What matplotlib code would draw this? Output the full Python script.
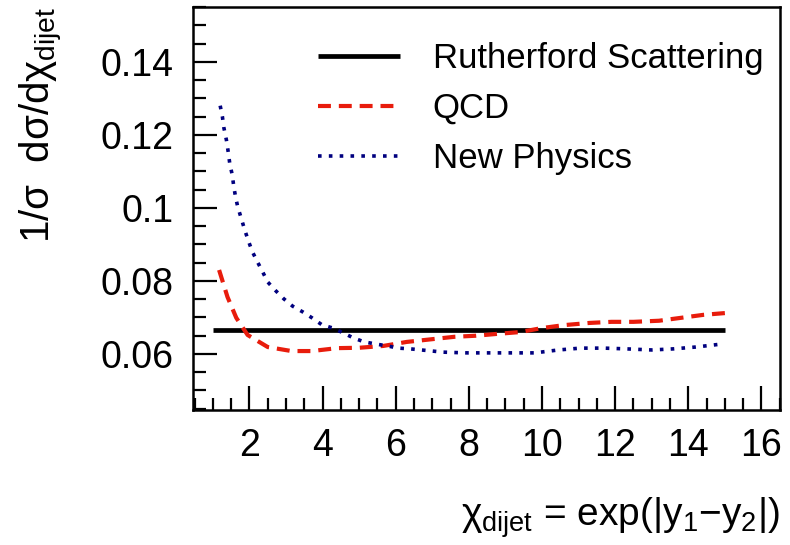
import matplotlib
matplotlib.use("Agg")
import matplotlib.pyplot as plt
from matplotlib.ticker import MultipleLocator

plt.rcParams['font.family'] = ['Liberation Sans', 'DejaVu Sans']
plt.rcParams['mathtext.fontset'] = 'custom'
plt.rcParams['mathtext.rm'] = 'Liberation Sans'
plt.rcParams['mathtext.it'] = 'Liberation Sans'

# Angular distributions of dijets
chi_ruth = [1.0, 15.0]
val_ruth = [0.0667, 0.0667]

chi_qcd = [1.17, 1.4, 1.64, 1.95, 2.5, 3.15, 3.7, 4.4, 5.0, 5.66, 6.3, 6.95, 7.6,
           8.2, 8.77, 9.4, 10.0, 10.6, 11.3, 11.9, 12.5, 13.2, 13.8, 14.4, 15.0]
val_qcd = [0.083, 0.0756, 0.0699, 0.0652, 0.0619, 0.0608, 0.0608, 0.0616, 0.0617,
           0.0622, 0.0633, 0.064, 0.0647, 0.065, 0.0655, 0.066, 0.0671, 0.0679,
           0.0685, 0.0688, 0.0688, 0.0691, 0.0699, 0.0707, 0.0712]

chi_np = [1.2, 1.26, 1.3, 1.37, 1.42, 1.46, 1.53, 1.57, 1.62, 1.68, 1.78, 1.87,
          1.97, 2.08, 2.22, 2.36, 2.5, 2.72, 2.94, 3.18, 3.46, 3.71, 3.98, 4.28,
          4.56, 4.84, 5.14, 5.47, 5.77, 6.08, 6.4, 6.7, 7.0, 7.3, 7.6, 7.95, 8.6,
          9.2, 9.8, 10.45, 11.05, 11.7, 12.3, 13.0, 13.6, 14.2, 14.9]
val_np = [0.128, 0.125, 0.122, 0.1186, 0.1153, 0.1123, 0.109, 0.106, 0.103,
          0.1003, 0.097, 0.094, 0.091, 0.088, 0.0852, 0.0825, 0.0797, 0.0773,
          0.0751, 0.0731, 0.0715, 0.0699, 0.068, 0.0671, 0.0658, 0.0644, 0.0633,
          0.0627, 0.0622, 0.0616, 0.0614, 0.0611, 0.0608, 0.0605, 0.0604, 0.0603,
          0.0603, 0.0603, 0.0603, 0.0611, 0.0616, 0.0616, 0.0614, 0.0611, 0.0614,
          0.0619, 0.0627]

fig = plt.figure(figsize=(7.9, 5.45), dpi=100)
ax = fig.add_axes([0.244, 0.248, 0.743, 0.739])

ax.plot(chi_ruth, val_ruth, color='black', lw=3.4, solid_capstyle='butt',
        label='Rutherford Scattering')
ax.plot(chi_qcd, val_qcd, color='#e81c0c', lw=3.0, linestyle=(0, (3.1, 1.9)),
        label='QCD')
ax.plot(chi_np, val_np, color='#00007f', lw=2.6, linestyle=(0, (1, 2.0)),
        label='New Physics')

ax.set_xlim(0.45, 16.5)
ax.set_ylim(0.0447, 0.155)
ax.xaxis.set_minor_locator(MultipleLocator(0.5))
ax.yaxis.set_minor_locator(MultipleLocator(0.005))
ax.set_xticks([2, 4, 6, 8, 10, 12, 14, 16])
ax.set_xticklabels(['2', '4', '6', '8', '10', '12', '14', '16'])
ax.set_yticks([0.06, 0.08, 0.1, 0.12, 0.14])
ax.set_yticklabels(['0.06', '0.08', '0.1', '0.12', '0.14'])

ax.tick_params(which='both', direction='in', top=False, right=False,
               width=1.6, labelsize=27)
ax.tick_params(which='major', length=17)
ax.tick_params(which='minor', length=9)
ax.tick_params(axis='x', pad=13)
ax.tick_params(axis='y', pad=14)
for sp in ax.spines.values():
    sp.set_linewidth(1.8)

ax.set_xlabel(r'$\chi_{\rm dijet}$ = exp(|y$_1$$-$y$_2$|)', fontsize=28,
              loc='right')
ax.xaxis.set_label_coords(1.0, -0.212)
ax.set_ylabel(r'1/$\sigma$  d$\sigma$/d$\chi_{\rm dijet}$', fontsize=29,
              loc='top')
ax.yaxis.set_label_coords(-0.218, 1.0)

ax.legend(loc='upper left', bbox_to_anchor=(0.213, 0.913), frameon=False,
          fontsize=25, handlelength=2.36, handletextpad=0.95, labelspacing=0.49,
          borderpad=0, borderaxespad=0)

fig.savefig('out.png', dpi=100)
